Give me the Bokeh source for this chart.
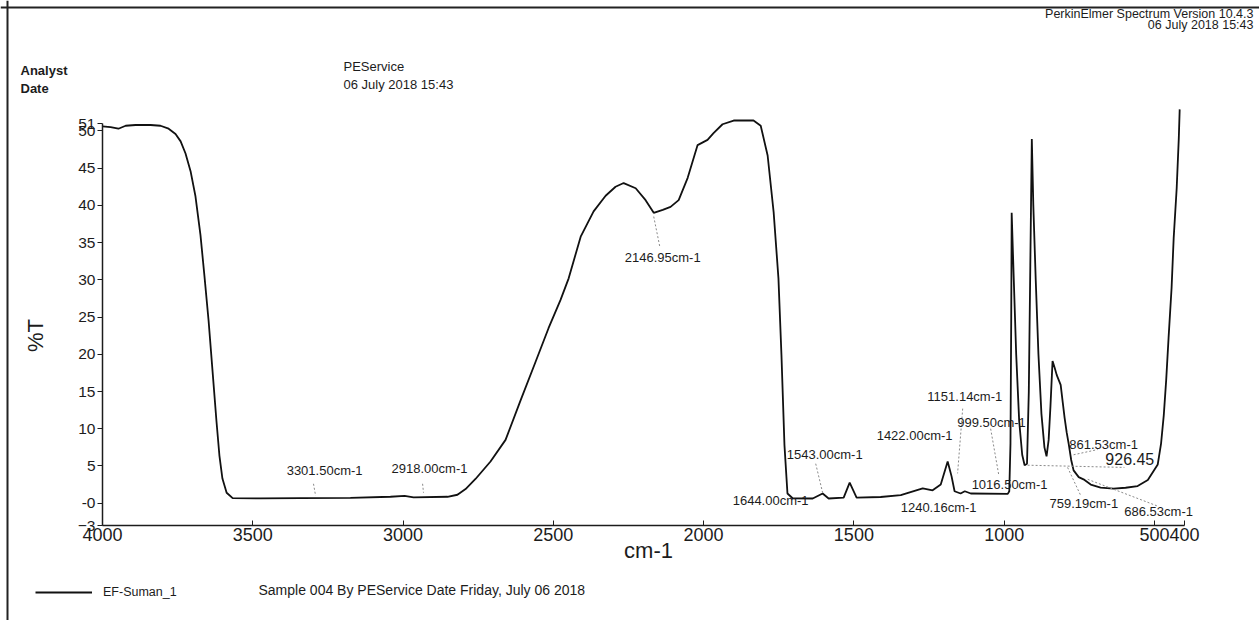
import math
from bokeh.plotting import figure
from bokeh.models import (Range1d, FixedTicker, Label, LabelSet, Legend, LegendItem,
                          ColumnDataSource, Span)
from bokeh.core.properties import value
from bokeh.embed import file_html
from bokeh.resources import INLINE

# ---------------- data ----------------
wavenumber = [4000, 3973, 3947, 3923, 3890, 3840, 3807, 3780, 3757, 3740, 3724, 3707, 3691,
              3674, 3661, 3647, 3634, 3621, 3611, 3601, 3587, 3567, 3474, 3341, 3175, 3042,
              2995, 2965, 2852, 2819, 2792, 2759, 2709, 2659, 2609, 2559, 2516, 2476, 2449,
              2409, 2366, 2326, 2293, 2266, 2226, 2193, 2166, 2136, 2110, 2083, 2053, 2020,
              1987, 1967, 1937, 1900, 1834, 1810, 1787, 1767, 1751, 1741, 1731, 1721, 1704,
              1637, 1604, 1584, 1534, 1514, 1491, 1411, 1344, 1271, 1238, 1211, 1188, 1175,
              1165, 1145, 1131, 1111, 988, 983, 979, 976.5, 975, 968, 960, 950, 940, 932,
              924, 918, 913, 908, 903, 895, 886, 876, 866, 859, 852, 846, 839, 832, 825, 818,
              812, 805, 799, 792, 785, 777, 769, 752, 736, 712, 679, 636, 596, 556, 522, 489,
              478, 469, 461, 453, 443, 436, 426, 419, 416]
transmittance = [50.6, 50.5, 50.3, 50.7, 50.8, 50.8, 50.7, 50.3, 49.6, 48.6, 47.0, 44.6, 41.3,
                 36.0, 30.6, 24.5, 17.8, 11.1, 6.4, 3.3, 1.4, 0.67, 0.64, 0.67, 0.70, 0.86,
                 0.98, 0.77, 0.86, 1.13, 1.9, 3.25, 5.6, 8.5, 13.8, 19.0, 23.5, 27.3, 30.2,
                 35.8, 39.2, 41.3, 42.5, 43.0, 42.3, 40.7, 39.0, 39.4, 39.8, 40.7, 43.7, 48.1,
                 48.8, 49.7, 50.9, 51.4, 51.4, 50.7, 46.7, 39.1, 30.2, 19.9, 7.8, 1.3, 0.66,
                 0.63, 1.3, 0.63, 0.74, 2.75, 0.74, 0.83, 1.08, 2.0, 1.73, 2.5, 5.6, 3.6,
                 1.6, 1.3, 1.6, 1.3, 1.25, 1.6, 8.0, 25.0, 39.0, 30.0, 20.0, 11.0, 6.5, 5.1,
                 5.3, 15.0, 32.0, 48.9, 40.0, 30.0, 20.0, 12.0, 7.5, 6.3, 8.5, 13.0, 19.1, 18.2,
                 17.2, 16.5, 15.9, 13.5, 11.5, 9.5, 7.9, 5.8, 4.4, 3.5, 3.2, 2.5, 2.1, 1.96,
                 2.07, 2.3, 3.1, 5.2, 8.0, 11.8, 16.5, 22.2, 28.9, 35.6, 42.3, 49.0, 52.9]

peak_labels = ["3301.50cm-1", "2918.00cm-1", "2146.95cm-1", "1543.00cm-1", "1422.00cm-1",
               "1644.00cm-1", "1240.16cm-1", "1151.14cm-1", "999.50cm-1", "1016.50cm-1",
               "861.53cm-1", "759.19cm-1", "686.53cm-1"]
peak_label_wn = [3261, 2912, 2136, 1597, 1298, 1777, 1218, 1131, 1042, 982, 669, 735, 486]
peak_label_t = [4.4, 4.6, 33.0, 6.6, 9.1, 0.4, -0.6, 14.3, 10.8, 2.5, 7.9, 0.0, -1.1]

big_label = ["926.45"]
big_label_wn = [582]
big_label_t = [5.9]

leader_wn0 = [3298, 2935, 2166, 1627, 1138, 1045, 769, 922, 789, 722]
leader_t0 = [2.6, 2.6, 38.5, 5.3, 12.7, 10.0, 6.5, 5.1, 4.8, 3.2]
leader_wn1 = [3291, 2932, 2146, 1604, 1155, 1018, 689, 600, 745, 489]
leader_t1 = [1.0, 1.4, 34.5, 1.4, 4.0, 3.8, 7.2, 4.8, 1.0, -0.4]

x_ticks = [4000, 3500, 3000, 2500, 2000, 1500, 1000, 500, 400]
y_ticks = [-3, 0, 5, 10, 15, 20, 25, 30, 35, 40, 45, 50, 51]

# ---------------- layout (canvas pixels <-> data) ----------------
FONT = "Liberation Sans"
INK = "#1c1c1c"
W, H = 1259, 620
AX_L, AX_R = 102, 1184      # canvas x of 4000 and 400 cm-1
AX_B, AX_T = 525, 123       # canvas y of -3 and 51 %T
sx = (AX_R - AX_L) / (4000 - 400)
sy = (AX_B - AX_T) / (51 - (-3))
X_START = 4000 + AX_L / sx
X_END = 4000 - (W - AX_L) / sx
Y_START = -3 - (H - AX_B) / sy
Y_END = -3 + AX_B / sy


def cx(px):
    return 4000 - (px - AX_L) / sx


def cy(py):
    return -3 + (AX_B - py) / sy


p = figure(width=W, height=H, x_range=Range1d(X_START, X_END),
           y_range=Range1d(Y_START, Y_END),
           output_backend="svg", toolbar_location=None,
           min_border=0, min_border_left=0, min_border_right=0,
           min_border_top=0, min_border_bottom=0)
p.xgrid.visible = False
p.ygrid.visible = False
p.outline_line_color = None
p.background_fill_color = "white"
p.border_fill_color = "white"

# axes drawn at fixed data locations inside the full-canvas frame
xa = p.xaxis[0]
xa.fixed_location = -3
xa.bounds = (4000, 400)
xa.ticker = FixedTicker(ticks=x_ticks)
xa.major_label_text_font = FONT
xa.major_label_text_font_size = "18px"
xa.major_label_text_color = INK
xa.major_label_standoff = 2
xa.major_tick_in = 5
xa.major_tick_out = 0
xa.minor_tick_in = 0
xa.minor_tick_out = 0
xa.axis_line_width = 1.5
xa.axis_line_color = INK
xa.major_tick_line_color = INK

ya = p.yaxis[0]
ya.fixed_location = 4000
ya.bounds = (-3, 51)
ya.ticker = FixedTicker(ticks=y_ticks)
ya.major_label_overrides = {0: "-0"}
ya.major_label_text_font = FONT
ya.major_label_text_font_size = "15.5px"
ya.major_label_text_color = INK
ya.major_label_standoff = 2
ya.major_tick_in = 0
ya.major_tick_out = 5
ya.minor_tick_in = 0
ya.minor_tick_out = 0
ya.axis_line_width = 1.5
ya.axis_line_color = INK
ya.major_tick_line_color = INK

# scanned page border (top and left)
p.add_layout(Span(location=cx(7), dimension="height", line_color="#222222", line_width=2))
p.add_layout(Span(location=cy(7), dimension="width", line_color="#222222", line_width=2))

# spectrum
src = ColumnDataSource(dict(wn=wavenumber, t=transmittance))
line_r = p.line("wn", "t", source=src, line_color="#111111", line_width=1.8)

# leader lines
p.segment(x0=leader_wn0, y0=leader_t0, x1=leader_wn1, y1=leader_t1,
          line_color="#8a8a8a", line_width=1, line_dash="2 2")

# peak labels
lab_src = ColumnDataSource(dict(x=peak_label_wn, y=peak_label_t, text=peak_labels))
p.add_layout(LabelSet(x="x", y="y", text="text", source=lab_src,
                      text_align="center", text_baseline="middle",
                      text_font=value(FONT), text_font_size="13px", text_color=INK))
big_src = ColumnDataSource(dict(x=big_label_wn, y=big_label_t, text=big_label))
p.add_layout(LabelSet(x="x", y="y", text="text", source=big_src,
                      text_align="center", text_baseline="middle",
                      text_font=value(FONT), text_font_size="16px", text_color=INK))


def txt(text, px, py, align="left", size="13px", angle=0.0, style="normal"):
    p.add_layout(Label(x=cx(px), y=cy(py), text=text, text_align=align,
                       text_baseline="middle", text_font=FONT, text_font_size=size,
                       text_font_style=style, text_color=INK, angle=angle))


# axis titles
txt("%T", 35, 335, align="center", size="22px", angle=math.pi / 2)
txt("cm-1", 648, 550, align="center", size="22px")

# header / footer
txt("Analyst", 20, 70, size="13px", style="bold")
txt("Date", 20, 88, size="13px", style="bold")
txt("PEService", 343, 66)
txt("06 July 2018 15:43", 343, 84)
txt("PerkinElmer Spectrum Version 10.4.3", 1253, 13, align="right", size="12.5px")
txt("06 July 2018 15:43", 1253, 24, align="right", size="12.5px")
txt("Sample 004 By PEService Date Friday, July 06 2018", 258, 589, size="14px")

legend = Legend(items=[LegendItem(label="EF-Suman_1", renderers=[line_r])],
                location=(35, H - 600), orientation="horizontal",
                border_line_color=None, background_fill_alpha=0,
                padding=0, margin=0, spacing=0,
                glyph_width=57, glyph_height=16, label_height=16, label_standoff=11,
                label_text_font=FONT, label_text_font_size="12.5px", label_text_color=INK)
p.add_layout(legend)

open("out.html", "w").write(file_html(p, INLINE))
